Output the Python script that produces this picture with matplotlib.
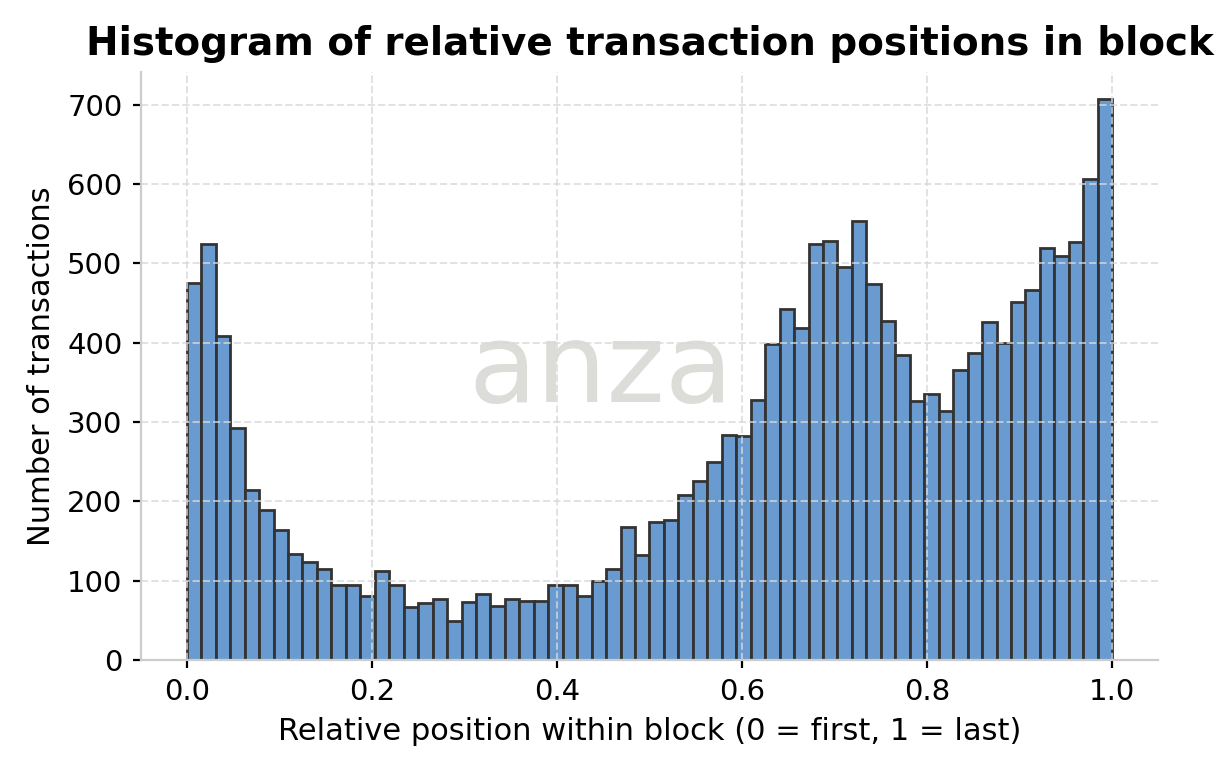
import numpy as np
import matplotlib.pyplot as plt

# counts per bin, 64 equal bins over [0, 1]
counts = [476, 525, 408, 293, 214, 189, 164, 134, 123, 115, 95, 95, 80, 112, 94, 67,
          72, 77, 49, 73, 83, 68, 77, 74, 74, 95, 95, 81, 99, 114, 167, 132,
          174, 177, 208, 226, 250, 284, 282, 328, 398, 442, 419, 525, 529, 495, 553, 474,
          428, 384, 327, 335, 314, 365, 387, 426, 400, 451, 466, 519, 509, 527, 606, 707]
n_bins = 64
y_ticks = [0, 100, 200, 300, 400, 500, 600, 700]

edges = np.linspace(0, 1, n_bins + 1)
centers = (edges[:-1] + edges[1:]) / 2

fig = plt.figure(figsize=(6.11, 3.895), dpi=200)
ax = fig.add_axes([0.115, 0.153, 0.833, 0.755])

ax.hist(centers, bins=edges, weights=counts, color="#6a9bd0",
        edgecolor="#333333", linewidth=1.0, zorder=2)

# grid sits on top of the bars, faint
ax.set_axisbelow(False)
ax.grid(True, linestyle="--", color="#d8d8d8", linewidth=0.7, alpha=0.75, zorder=3)
ax.text(0.452, 0.49, "anza", transform=ax.transAxes, fontsize=40,
        color="#dcdcd8", ha="center", va="center", zorder=1)

ax.set_yticks(y_ticks)
ax.set_ylim(0, 742)
ax.set_xlim(-0.05, 1.05)
for s in ["top", "right"]:
    ax.spines[s].set_visible(False)
for s in ["left", "bottom"]:
    ax.spines[s].set_color("#cccccc")
    ax.spines[s].set_zorder(4)
ax.tick_params(labelsize=10.5, length=3)

ax.set_title("Histogram of relative transaction positions in block",
             fontsize=14, fontweight="bold")
ax.set_xlabel("Relative position within block (0 = first, 1 = last)", fontsize=11)
ax.set_ylabel("Number of transactions", fontsize=11)

fig.savefig("out.png", dpi=200)
